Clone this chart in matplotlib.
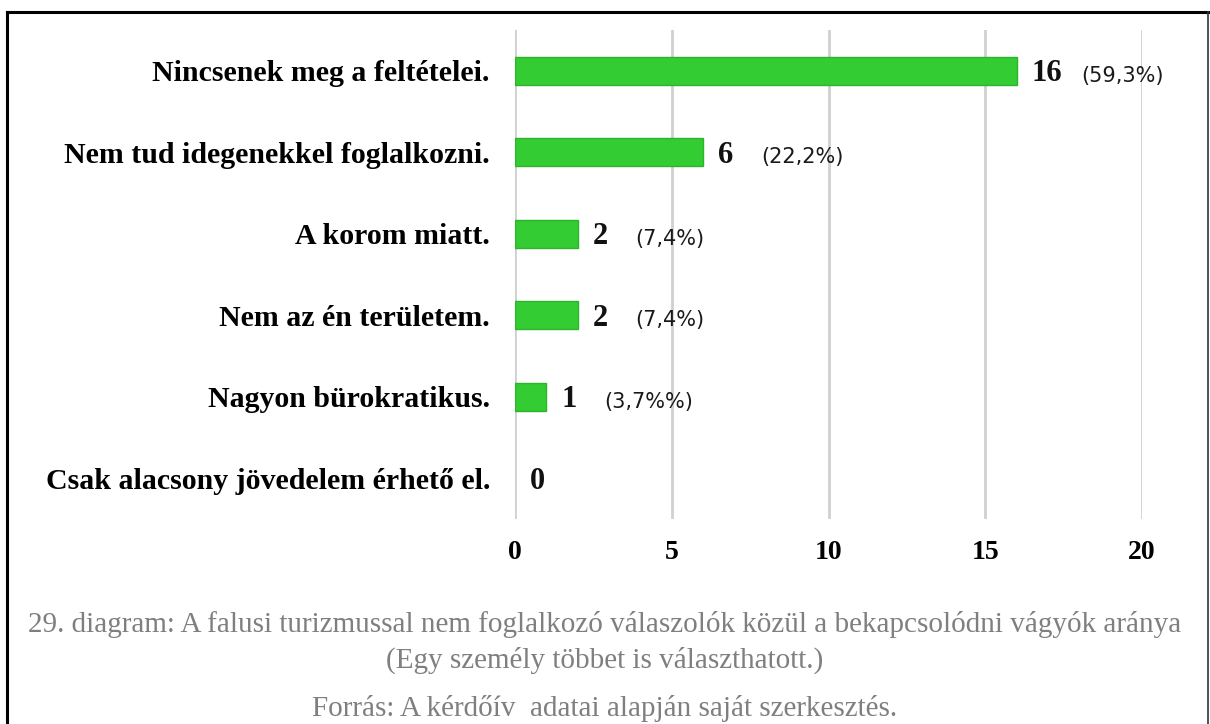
import matplotlib
matplotlib.use("Agg")
import matplotlib.pyplot as plt
from matplotlib.lines import Line2D

categories = [
    "Nincsenek meg a feltételei.",
    "Nem tud idegenekkel foglalkozni.",
    "A korom miatt.",
    "Nem az én területem.",
    "Nagyon bürokratikus.",
    "Csak alacsony jövedelem érhető el.",
]
values = [16, 6, 2, 2, 1, 0]
pct_labels = ["(59,3%)", "(22,2%)", "(7,4%)", "(7,4%)", "(3,7%%)", ""]
xticks = [0, 5, 10, 15, 20]
caption1 = "29. diagram: A falusi turizmussal nem foglalkozó válaszolók közül a bekapcsolódni vágyók aránya"
caption2 = "(Egy személy többet is választhatott.)"
caption3 = "Forrás: A kérdőív  adatai alapján saját szerkesztés."

W, H = 1210, 724
fig = plt.figure(figsize=(W / 100, H / 100), dpi=100)
ax = fig.add_axes([515 / W, 1 - 519 / H, (1142 - 515) / W, (519 - 30) / H])

y = list(range(len(categories)))
bars = ax.barh(y, values, height=0.34, color="#33cc33", edgecolor="#2cb42c",
               linewidth=1, zorder=3)
for b, v in zip(bars, values):
    if v == 0:
        b.set_visible(False)
ax.set_xlim(0, 20)
ax.set_ylim(len(categories) - 0.5, -0.5)
ax.set_xticks(xticks)
ax.set_xticklabels([str(t) for t in xticks], fontfamily="Liberation Serif",
                   fontweight="bold", fontsize=20)
ax.set_yticks(y)
ax.set_yticklabels(categories, fontfamily="Liberation Serif", fontweight="bold", fontsize=21.5)
ax.tick_params(axis="both", length=0)
ax.tick_params(axis="x", pad=15)
ax.tick_params(axis="y", pad=18)
for s in ax.spines.values():
    s.set_visible(False)
ax.grid(axis="x", color="#d0d0d0", linewidth=2, zorder=0)
ax.set_axisbelow(True)

for yi, v, p in zip(y, values, pct_labels):
    ax.annotate(str(v), xy=(v, yi), xytext=(15, -3), textcoords="offset pixels",
                ha="left", va="center", fontfamily="Liberation Serif",
                fontweight="bold", fontsize=22, color="#111111")
    if p:
        off = 58 + 7 * (len(str(v)) - 1)
        ax.annotate(p, xy=(v, yi), xytext=(off, -5), textcoords="offset pixels",
                    ha="left", va="center", fontfamily="DejaVu Sans",
                    fontsize=15, color="#1a1a1a")

cap_kw = dict(ha="center", va="center", fontfamily="Liberation Serif",
              fontsize=21, color="#7f7f7f")
fig.text(0.5, 1 - 624 / H, caption1, **cap_kw)
fig.text(0.5, 1 - 660 / H, caption2, **cap_kw)
fig.text(0.5, 1 - 708 / H, caption3, **cap_kw)

# frame border
fig.add_artist(Line2D([7 / W, 1208 / W], [1 - 12 / H, 1 - 12 / H], transform=fig.transFigure,
                      color="black", linewidth=2.2))
fig.add_artist(Line2D([7 / W, 7 / W], [1 - 12 / H, 0], transform=fig.transFigure,
                      color="black", linewidth=2.2))
fig.add_artist(Line2D([1208 / W, 1208 / W], [1 - 12 / H, 0], transform=fig.transFigure,
                      color="#333333", linewidth=1.2))

fig.savefig("out.png", dpi=100)
